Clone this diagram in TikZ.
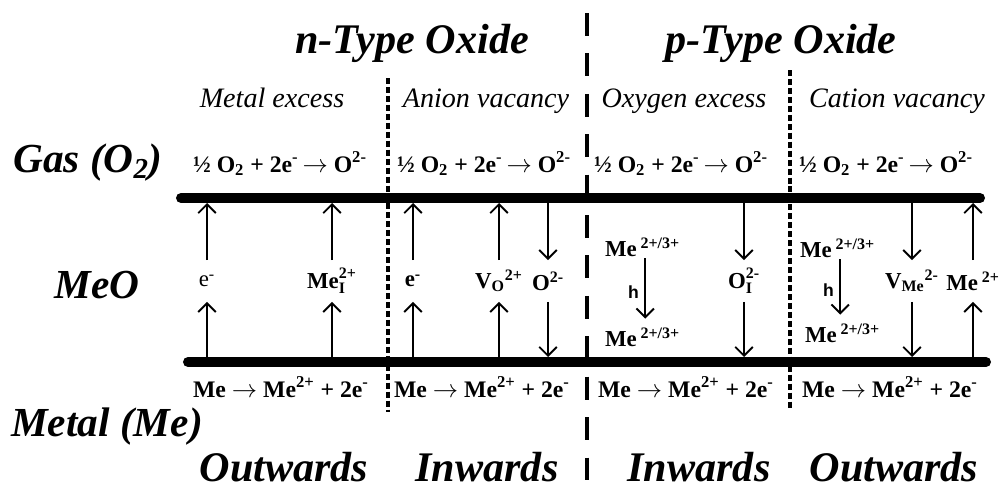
\documentclass[tikz,border=0pt]{standalone}
\usepackage{amsmath}
\usepackage{fontspec}
\setmainfont{Liberation Serif}
\newfontfamily\holefont{Liberation Sans}
\usetikzlibrary{arrows.meta,positioning}
\newcommand{\MeMix}{Me\,\textsuperscript{2+/3+}}
\newcommand{\GasEq}{½ O\textsubscript{2} + 2e\textsuperscript{-}\,$\rightarrow$ O\textsuperscript{2-}}
\newcommand{\MetEq}{Me $\rightarrow$ Me\textsuperscript{2+} + 2e\textsuperscript{-}}

\begin{document}
\begin{tikzpicture}[x=0.02cm, y=-0.02cm,
    title/.style={font=\fontsize{24}{28}\selectfont\bfseries\itshape, anchor=base, inner sep=0.5pt},
    side/.style={font=\fontsize{23.5}{28}\selectfont\bfseries\itshape, anchor=base, inner sep=1pt},
    defect/.style={font=\fontsize{16}{19}\selectfont\itshape, anchor=base, inner sep=1pt},
    eqn/.style={font=\fontsize{13.5}{16}\selectfont\bfseries, anchor=base, inner sep=1pt},
    ion/.style={font=\fontsize{13}{16}\selectfont\bfseries, inner sep=1pt},
    spec/.style={ion, minimum height=0.82cm},
    hole/.style={font=\fontsize{10}{12}\selectfont\holefont\bfseries, inner sep=3pt},
    bar/.style={line width=5.7pt, line cap=round},
    flux/.style={-{Straight Barb[length=5pt,width=10pt]}, line width=1.1pt},
    typeline/.style={line width=2.3pt, dash pattern=on 13pt off 10pt},
    defline/.style={line width=2.3pt, dash pattern=on 3.4pt off 1.7pt}
]
\useasboundingbox (0,0) rectangle (1008,490);

% Headings
\node[title] (ntype) at (412,53) {n-Type Oxide};
\node[title] (ptype) at (781,53) {p-Type Oxide};
\node[defect] (mexc) at (272,107) {Metal excess};
\node[defect] (avac) at (486,107) {Anion vacancy};
\node[defect] (oexc) at (684,107) {Oxygen excess};
\node[defect] (cvac) at (897,107) {Cation vacancy};

% Layers
\node[side] (gas) at (88,172) {Gas (O\textsubscript{2})};
\node[side] (meo) at (97,298) {MeO};
\node[side] (metal) at (107,436) {Metal (Me)};
\draw[bar] (181,198) -- (980,198);
\draw[bar] (188,362) -- (986,362);
\coordinate (top) at (0,203);
\coordinate (bot) at (0,357);

% Separators
\draw[typeline] (587,13) -- (587,490);
\draw[defline] (388,78) -- (388,412);
\draw[defline] (790,70) -- (790,408);

% Reactions
\node[eqn] (gas1) at (280,172) {\GasEq};
\node[eqn] (gas2) at (484,172) {\GasEq};
\node[eqn] (gas3) at (681,172) {\GasEq};
\node[eqn] (gas4) at (886,172) {\GasEq};
\node[eqn] (met1) at (281,397) {\MetEq};
\node[eqn] (met2) at (482,397) {\MetEq};
\node[eqn] (met3) at (686,397) {\MetEq};
\node[eqn] (met4) at (890,397) {\MetEq};

% Species in the oxide
\node[spec] (eout) at (207,281) {\mdseries e\textsuperscript{-}};
\node[spec] (meint) at (332,281) {$\textbf{Me}_{\textbf{I}}^{\textbf{2+}}$};
\node[spec] (ein) at (413,281) {e\textsuperscript{-}};
\node[spec] (vox) at (499,281) {V\textsubscript{O}\textsuperscript{2+}};
\node[spec] (oan) at (548,281) {O\textsuperscript{2-}};
\node[spec] (oint) at (744,281) {$\textbf{O}_{\textbf{I}}^{\textbf{2-}}$};
\node[spec] (vme) at (912,281) {V\textsubscript{Me}\textsuperscript{2-}};
\node[spec] (mecat) at (973,281) {Me\,\textsuperscript{2+}};
\node[ion, anchor=west] (mixa) at (603,247) {\MeMix};
\node[ion, anchor=west] (mixb) at (603,337) {\MeMix};
\node[ion, anchor=west] (mixc) at (798,248) {\MeMix};
\node[ion, anchor=west] (mixd) at (803,333) {\MeMix};

% Arrows
\draw[flux] (eout |- bot) -- (eout);
\draw[flux] (eout) -- (eout |- top);
\draw[flux] (meint |- bot) -- (meint);
\draw[flux] (meint) -- (meint |- top);
\draw[flux] (ein |- bot) -- (ein);
\draw[flux] (ein) -- (ein |- top);
\draw[flux] (vox |- bot) -- (vox);
\draw[flux] (vox) -- (vox |- top);
\draw[flux] (oan |- top) -- (oan);
\draw[flux] (oan) -- (oan |- bot);
\draw[flux] (oint |- top) -- (oint);
\draw[flux] (oint) -- (oint |- bot);
\draw[flux] (vme |- top) -- (vme);
\draw[flux] (vme) -- (vme |- bot);
\draw[flux] (mecat |- bot) -- (mecat);
\draw[flux] (mecat) -- (mecat |- top);
\draw[flux, shorten >=4pt] ([xshift=24pt]mixa.south west) -- ([xshift=24pt]mixa.south west |- mixb.north)
    node[hole, midway, left] (hola) {h};
\draw[flux, shorten >=4pt] ([xshift=24pt]mixc.south west) -- ([xshift=24pt]mixc.south west |- mixd.north)
    node[hole, midway, left] (holb) {h};

% Directions
\node[title] (out1) at (284,481) {Outwards};
\node[title] (in1) at (487,481) {Inwards};
\node[title] (in2) at (699,481) {Inwards};
\node[title] (out2) at (894,481) {Outwards};
\end{tikzpicture}
\end{document}
